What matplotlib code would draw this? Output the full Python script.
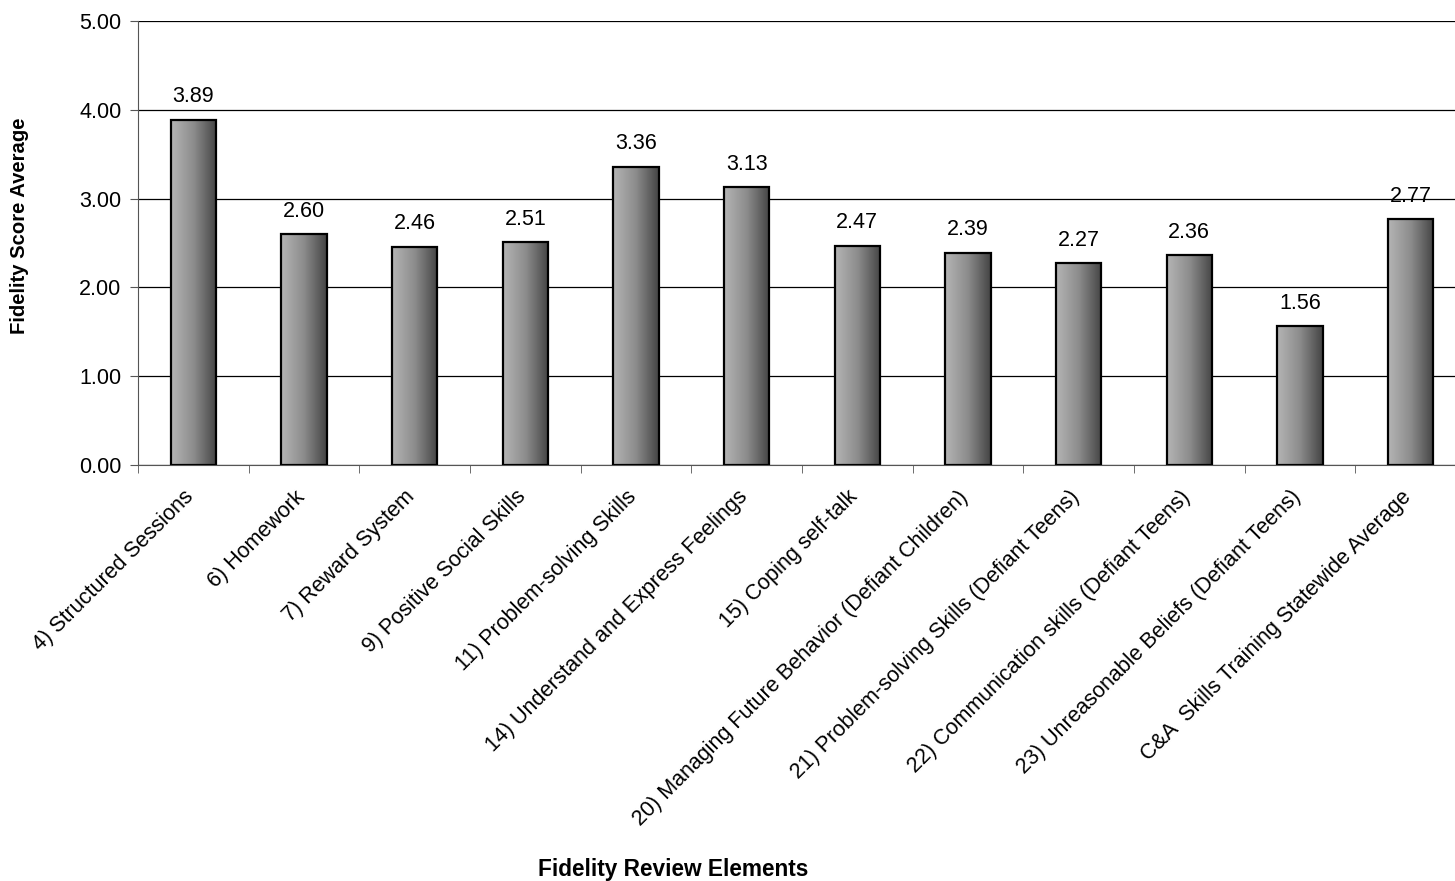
import numpy as np
import matplotlib
matplotlib.use("Agg")
import matplotlib.pyplot as plt
import matplotlib.transforms as mtransforms
from matplotlib.colors import LinearSegmentedColormap

plt.rcParams['font.family'] = ['Liberation Sans', 'DejaVu Sans']

categories = [
    "4) Structured Sessions",
    "6) Homework",
    "7) Reward System",
    "9) Positive Social Skills",
    "11) Problem-solving Skills",
    "14) Understand and Express Feelings",
    "15) Coping self-talk",
    "20) Managing Future Behavior (Defiant Children)",
    "21) Problem-solving Skills (Defiant Teens)",
    "22) Communication skills (Defiant Teens)",
    "23) Unreasonable Beliefs (Defiant Teens)",
    "C&A  Skills Training Statewide Average",
]
scores = [3.89, 2.60, 2.46, 2.51, 3.36, 3.13, 2.47, 2.39, 2.27, 2.36, 1.56, 2.77]
yticks = [0, 1, 2, 3, 4, 5]

fig = plt.figure(figsize=(14.55, 8.81), dpi=100)
ax = fig.add_axes([0.0948, 0.4722, 0.9127, 0.504])

cmap = LinearSegmentedColormap.from_list("bar", ["#b4b4b4", "#8c8c8c", "#454545"])
grad = np.linspace(0, 1, 64).reshape(1, -1)

x = np.arange(len(categories))
width = 0.41
for xi, v in zip(x, scores):
    ax.imshow(grad, cmap=cmap, aspect='auto', extent=(xi - width / 2, xi + width / 2, 0, v),
              zorder=2, interpolation='bilinear')
    ax.bar(xi, v, width=width, facecolor='none', edgecolor='black', linewidth=1.6, zorder=3)
    ax.text(xi, v + 0.14, f"{v:.2f}", ha='center', va='bottom', fontsize=15.5)

ax.set_xlim(-0.5, len(categories) - 0.5)
ax.set_ylim(0, 5)
ax.set_yticks(yticks)
ax.set_yticklabels([f"{t:.2f}" for t in yticks], fontsize=15.5)
ax.yaxis.grid(True, color='black', linewidth=0.9)
ax.set_axisbelow(True)

ax.set_xticks(x)
ax.set_xticklabels(categories, rotation=45, ha='right', rotation_mode='anchor', fontsize=15.5)
ax.tick_params(axis='x', length=0, pad=14)
shift = mtransforms.ScaledTranslation(-0.1, -0.02, fig.dpi_scale_trans)
for lbl in ax.get_xticklabels():
    lbl.set_transform(lbl.get_transform() + shift)
ax.set_xticks(np.arange(len(categories) + 1) - 0.5, minor=True)
ax.tick_params(axis='x', which='minor', length=6, direction='out', color='#555555')
ax.tick_params(axis='y', length=6, direction='out', color='#555555', pad=6)

for s in ['top', 'right']:
    ax.spines[s].set_visible(False)
ax.spines['left'].set_color('#555555')
ax.spines['bottom'].set_color('#555555')

fig.text(0.0137, 0.7435, "Fidelity Score Average", rotation=90, ha='center', va='center',
         fontsize=14.6, fontweight='bold')
fig.text(0.4625, 0.0136, "Fidelity Review Elements", ha='center', va='center',
         fontsize=16.3, fontweight='bold')

fig.savefig("out.png", dpi=100)
